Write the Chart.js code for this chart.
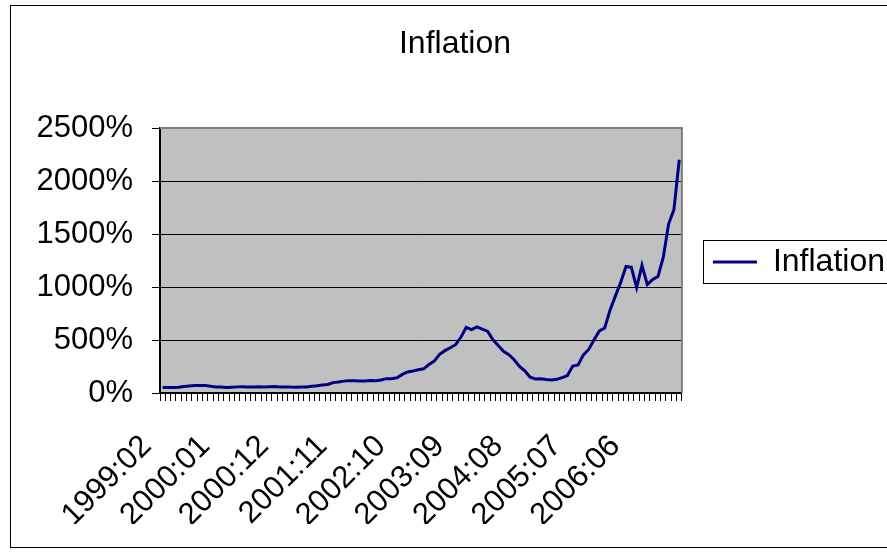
<!DOCTYPE html>
<html>
<head>
<meta charset="utf-8">
<script src="https://cdn.jsdelivr.net/npm/chart.js@4.4.1/dist/chart.umd.min.js"></script>
<style>html,body{margin:0;padding:0;background:#fff;}canvas{display:block;}</style>
</head>
<body>
<canvas id="c" width="887" height="552"></canvas>
<script>
const months = [
  '1999:02','1999:03','1999:04','1999:05','1999:06','1999:07','1999:08','1999:09','1999:10','1999:11','1999:12',
  '2000:01','2000:02','2000:03','2000:04','2000:05','2000:06','2000:07','2000:08','2000:09','2000:10','2000:11','2000:12',
  '2001:01','2001:02','2001:03','2001:04','2001:05','2001:06','2001:07','2001:08','2001:09','2001:10','2001:11','2001:12',
  '2002:01','2002:02','2002:03','2002:04','2002:05','2002:06','2002:07','2002:08','2002:09','2002:10','2002:11','2002:12',
  '2003:01','2003:02','2003:03','2003:04','2003:05','2003:06','2003:07','2003:08','2003:09','2003:10','2003:11','2003:12',
  '2004:01','2004:02','2004:03','2004:04','2004:05','2004:06','2004:07','2004:08','2004:09','2004:10','2004:11','2004:12',
  '2005:01','2005:02','2005:03','2005:04','2005:05','2005:06','2005:07','2005:08','2005:09','2005:10','2005:11','2005:12',
  '2006:01','2006:02','2006:03','2006:04','2006:05','2006:06','2006:07','2006:08','2006:09','2006:10','2006:11','2006:12',
  '2007:01','2007:02','2007:03'
];

const inflation = [
  50.8, 51.5, 53.0, 54.7, 60.4, 66.5, 70.1, 70.4, 69.7, 63.7, 56.9,
  56.1, 52.0, 55.2, 57.8, 59.7, 56.9, 56.0, 60.0, 56.6, 59.4, 60.5, 55.9,
  57.5, 55.6, 55.2, 56.7, 56.0, 64.4, 69.1, 75.0, 80.8, 97.9, 103.8, 112.1,
  116.7, 116.0, 113.3, 113.4, 118.1, 114.8, 122.5, 135.3, 135.5, 144.0, 175.5, 198.9,
  208.1, 220.1, 228.0, 269.0, 300.6, 364.5, 399.5, 426.6, 455.6, 525.8, 619.5, 598.7,
  622.8, 602.0, 583.0, 505.0, 448.0, 394.0, 362.0, 314.0, 251.0, 209.0, 149.0, 132.7,
  133.6, 127.2, 123.7, 129.1, 144.4, 164.3, 254.8, 265.1, 359.8, 411.0, 502.4, 585.8,
  613.2, 782.0, 913.6, 1042.9, 1193.5, 1184.6, 993.6, 1204.6, 1023.3, 1070.2, 1098.8, 1281.1,
  1593.6, 1729.9, 2200.2
];

const shownLabels = ['1999:02','2000:01','2000:12','2001:11','2002:10','2003:09','2004:08','2005:07','2006:06'];
const yTickValues = [0, 500, 1000, 1500, 2000, 2500];

const FONT = "'Liberation Sans', Arial, sans-serif";
Chart.defaults.font.family = FONT;
Chart.defaults.color = '#000';

const framePlugin = {
  id: 'framePlugin',
  beforeDraw(chart) {
    const {ctx, chartArea: a} = chart;
    ctx.save();
    ctx.fillStyle = '#ffffff';
    ctx.fillRect(0, 0, chart.width, chart.height);
    ctx.fillStyle = '#C0C0C0';
    ctx.fillRect(a.left, a.top, a.right - a.left, a.bottom - a.top);
    ctx.restore();
  },
  beforeDatasetsDraw(chart) {
    const {ctx, chartArea: a} = chart;
    ctx.save();
    ctx.strokeStyle = '#808080';
    ctx.lineWidth = 2;
    ctx.beginPath();
    ctx.moveTo(a.left, a.top);
    ctx.lineTo(a.right, a.top);
    ctx.lineTo(a.right, a.bottom);
    ctx.stroke();
    ctx.restore();
  },
  afterDraw(chart) {
    const ctx = chart.ctx;
    ctx.save();
    ctx.strokeStyle = '#000';
    ctx.lineWidth = 1;
    ctx.strokeRect(10.5, 5.5, chart.width + 20, 542);
    const hb = chart.legend && chart.legend.legendHitBoxes && chart.legend.legendHitBoxes[0];
    if (hb) {
      ctx.strokeRect(Math.round(hb.left) - 9.5, Math.round(hb.top) - 5.5, 300, hb.height + 11);
    }
    ctx.restore();
  }
};

new Chart(document.getElementById('c'), {
  type: 'line',
  data: {
    labels: months,
    datasets: [{
      label: 'Inflation',
      data: inflation,
      borderColor: '#000080',
      backgroundColor: '#000080',
      borderWidth: 3,
      pointRadius: 0,
      tension: 0,
      fill: false
    }]
  },
  plugins: [framePlugin],
  options: {
    responsive: false,
    animation: false,
    devicePixelRatio: 1,
    layout: { padding: { left: 15, right: -8, top: 0, bottom: 28 } },
    plugins: {
      title: {
        display: true,
        text: 'Inflation',
        font: { size: 32, weight: 'normal', family: FONT },
        color: '#000',
        padding: { top: 25, bottom: 64.6 }
      },
      legend: {
        position: 'right',
        align: 'center',
        labels: {
          font: { size: 32, family: FONT },
          color: '#000',
          boxWidth: 44,
          boxHeight: 3,
          padding: 31,
          generateLabels(chart) {
            return chart.data.datasets.map((ds, i) => ({
              text: ds.label,
              fillStyle: ds.borderColor,
              strokeStyle: ds.borderColor,
              lineWidth: 0,
              hidden: false,
              datasetIndex: i
            }));
          }
        }
      },
      tooltip: { enabled: false }
    },
    scales: {
      x: {
        offset: true,
        grid: {
          offset: true,
          drawOnChartArea: false,
          drawTicks: true,
          tickLength: 8,
          tickColor: '#000',
          tickWidth: 1
        },
        border: { display: true, color: '#000', width: 2 },
        ticks: {
          autoSkip: false,
          maxRotation: 45,
          minRotation: 45,
          padding: 27,
          labelOffset: -16,
          font: { size: 31, family: FONT },
          color: '#000',
          callback(value) {
            const lab = this.getLabelForValue(value);
            return shownLabels.includes(lab) ? lab : '';
          }
        },
        afterFit(scale) { scale.height = 131; }
      },
      y: {
        min: 0,
        max: 2500,
        afterBuildTicks(scale) { scale.ticks = yTickValues.map(v => ({ value: v })); },
        grid: {
          color: '#000',
          lineWidth: 1,
          drawTicks: true,
          tickLength: 8,
          tickColor: '#000'
        },
        border: { display: true, color: '#000', width: 2 },
        ticks: {
          padding: 19,
          font: { size: 31, family: FONT },
          color: '#000',
          callback(value) { return value + '%'; }
        },
        afterFit(scale) { scale.width = 145; }
      }
    }
  }
});
</script>
</body>
</html>
